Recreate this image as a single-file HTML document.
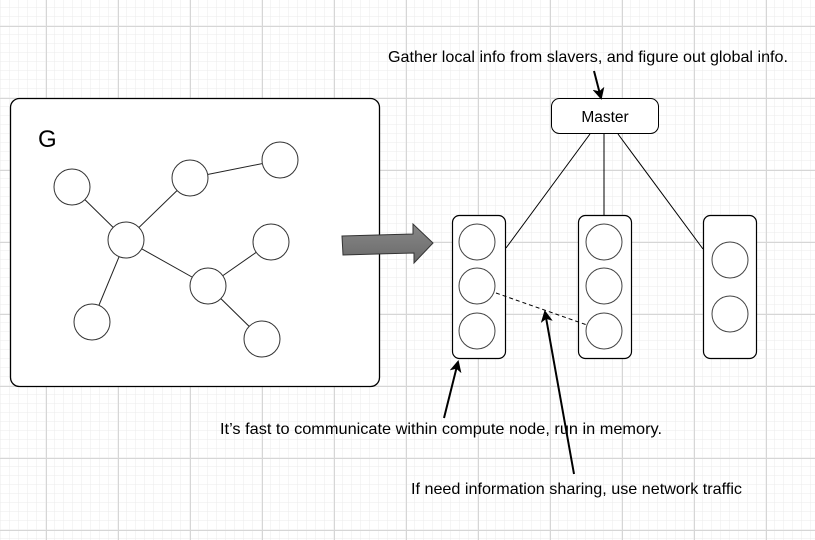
<!DOCTYPE html>
<html><head><style>
html,body{margin:0;padding:0;background:#fff;}
svg{display:block;}
text{font-family:"Liberation Sans",sans-serif;fill:#000;}
</style></head><body>
<svg width="815" height="540" xmlns="http://www.w3.org/2000/svg">
<defs>
<pattern id="minor" x="1" y="8" width="9" height="9" patternUnits="userSpaceOnUse">
<path d="M9 0V9M0 9H9" fill="none" stroke="#ebebeb" stroke-width="1"/>
</pattern>
<pattern id="major" x="46" y="26" width="72" height="72" patternUnits="userSpaceOnUse">
<path d="M0.5 0V72M0 0.5H72" fill="none" stroke="#d6d6d6" stroke-width="1"/>
</pattern>
<marker id="ah" markerWidth="12" markerHeight="12" refX="10" refY="6" orient="auto" markerUnits="userSpaceOnUse">
<path d="M0,0 L12,6 L0,12 L3,6 Z" fill="#000"/>
</marker>
<linearGradient id="ag" x1="0" y1="0" x2="0" y2="1"><stop offset="0" stop-color="#888"/><stop offset="1" stop-color="#6a6a6a"/></linearGradient>
</defs>
<rect width="815" height="540" fill="url(#minor)"/>
<rect width="815" height="540" fill="url(#major)"/>

<rect x="10.5" y="98.5" width="369" height="288" rx="9" fill="#fff" stroke="#000" stroke-width="1.3"/>
<text x="38" y="147" font-size="24">G</text>
<g stroke="#222" stroke-width="1">
<line x1="72" y1="187" x2="126" y2="240"/>
<line x1="126" y1="240" x2="190" y2="178"/>
<line x1="190" y1="178" x2="280" y2="160"/>
<line x1="126" y1="240" x2="208" y2="286"/>
<line x1="126" y1="240" x2="92" y2="322"/>
<line x1="208" y1="286" x2="271" y2="242"/>
<line x1="208" y1="286" x2="262" y2="339"/>
</g>
<g fill="#fff" stroke="#333" stroke-width="1">
<circle cx="72" cy="187" r="18"/><circle cx="190" cy="178" r="18"/><circle cx="280" cy="160" r="18"/>
<circle cx="126" cy="240" r="18"/><circle cx="271" cy="242" r="18"/><circle cx="208" cy="286" r="18"/>
<circle cx="92" cy="322" r="18"/><circle cx="262" cy="339" r="18"/>
</g>

<path d="M342,236 L413,234 L413,224 L433,243 L414,263 L414,253 L343,255 Z" fill="url(#ag)" stroke="#333" stroke-width="1"/>

<g stroke="#000" stroke-width="1">
<line x1="590" y1="134" x2="506" y2="248"/>
<line x1="604" y1="134" x2="604" y2="215"/>
<line x1="618" y1="134" x2="703" y2="249"/>
</g>
<rect x="551.5" y="98.5" width="107" height="35" rx="8" fill="#fff" stroke="#000"/>
<text x="605" y="122" font-size="15.5" text-anchor="middle">Master</text>

<g fill="#fff" stroke="#000" stroke-width="1.2">
<rect x="452.5" y="215.5" width="53" height="143" rx="7"/>
<rect x="578.5" y="215.5" width="53" height="143" rx="7"/>
<rect x="703.5" y="215.5" width="53" height="143" rx="7"/>
</g>
<g fill="#fff" stroke="#444" stroke-width="1">
<circle cx="477" cy="242" r="18"/><circle cx="477" cy="286" r="18"/><circle cx="477" cy="331" r="18"/>
<circle cx="604" cy="242" r="18"/><circle cx="604" cy="286" r="18"/><circle cx="604" cy="331" r="18"/>
<circle cx="730" cy="260" r="18"/><circle cx="730" cy="314" r="18"/>
</g>
<line x1="496" y1="293" x2="587" y2="325" stroke="#000" stroke-dasharray="4,3"/>

<g stroke="#000" stroke-width="2" marker-end="url(#ah)">
<line x1="594" y1="71" x2="601" y2="98"/>
<line x1="444" y1="418" x2="458" y2="362"/>
<line x1="574" y1="474" x2="545" y2="312"/>
</g>

<text x="388" y="62" font-size="16" textLength="400" lengthAdjust="spacingAndGlyphs">Gather local info from slavers, and figure out global info.</text>
<text x="220" y="434" font-size="16" textLength="442" lengthAdjust="spacingAndGlyphs">It’s fast to communicate within compute node, run in memory.</text>
<text x="411" y="494" font-size="16" textLength="331" lengthAdjust="spacingAndGlyphs">If need information sharing, use network traffic</text>
</svg>
</body></html>
